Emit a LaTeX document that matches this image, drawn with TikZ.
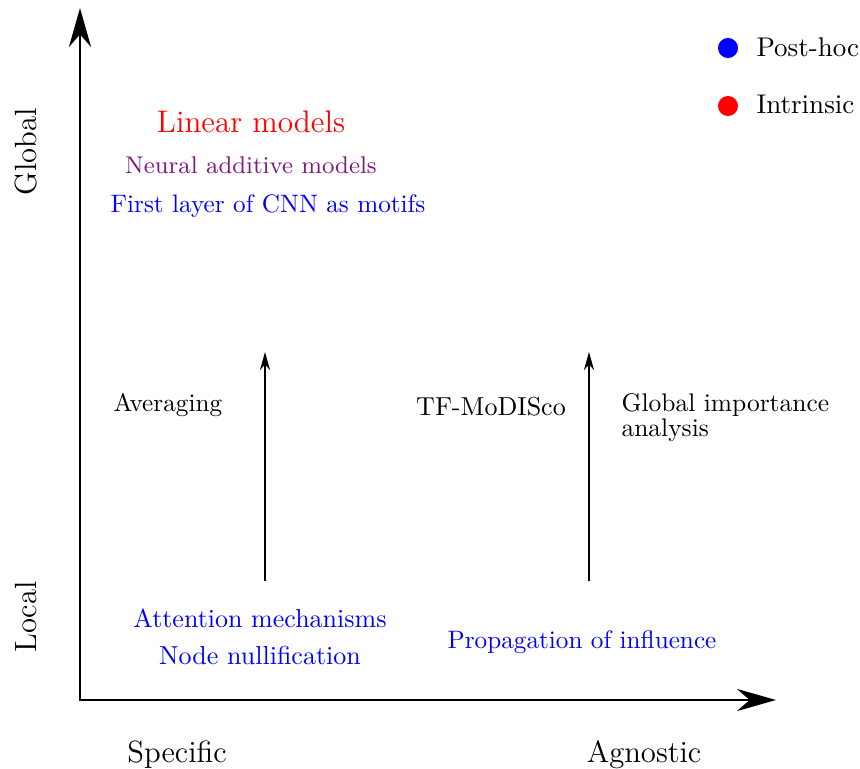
\documentclass[tikz,border=0pt]{standalone}
\usetikzlibrary{arrows.meta}
\definecolor{napurple}{rgb}{0.5,0.1,0.5}
\begin{document}
\begin{tikzpicture}[x=0.3846pt,y=-0.3846pt,
  axis/.style={line width=1.15pt,{Stealth[length=15pt,width=8.5pt]}-{Stealth[length=15pt,width=8.5pt]}},
  lift/.style={line width=0.5pt,-{Stealth[length=7pt,width=3.9pt]}},
  lbl/.style={inner sep=0pt,anchor=base,font=\fontsize{10}{12}\selectfont},
  small/.style={font=\fontsize{9.7}{12}\selectfont},
  axlbl/.style={inner sep=0pt,anchor=base,font=\fontsize{11.8}{14}\selectfont},
  dot/.style={circle,inner sep=0pt,minimum size=7.7pt}]
\useasboundingbox (0,0) rectangle (860,769);

% axes
\coordinate (O) at (80,700);
\coordinate (ytip) at (80,8);
\coordinate (xtip) at (776,700);
\draw[axis] (ytip) -- (O) -- (xtip);

% axis labels
\node[axlbl,rotate=90] (global) at (36,152) {Global};
\node[axlbl,rotate=90] (local) at (36,617) {Local};
\node[axlbl] (spec) at (177,762) {Specific};
\node[axlbl] (agn) at (644,762) {Agnostic};

% global, model-specific
\node[lbl,red,font=\fontsize{12}{14}\selectfont] (lin) at (251,133) {Linear models};
\node[lbl,napurple,font=\fontsize{9.3}{12}\selectfont] (nam) at (251,174) {Neural additive models};
\node[lbl,blue,small] (cnn) at (268,213) {First layer of CNN as motifs};

% aggregation from local to global
\node[lbl,small,anchor=base west] (avg) at (113,412) {Averaging};
\node[lbl] (tfm) at (491,415) {TF-MoDISco};
\node[lbl,anchor=base west,align=left,font=\fontsize{9.8}{9.6}\selectfont] (gia) at (621,436) {Global importance\\analysis};

\coordinate (a1s) at (265,581);
\coordinate (a1e) at (265,352);
\coordinate (a2s) at (589,581);
\coordinate (a2e) at (589,352);
\draw[lift] (a1s) -- (a1e);
\draw[lift] (a2s) -- (a2e);

% local methods
\node[lbl,blue] (att) at (260,627) {Attention mechanisms};
\node[lbl,blue] (nul) at (260,664) {Node nullification};
\node[lbl,blue,small] (prop) at (582,648) {Propagation of influence};

% legend
\node[dot,fill=blue] (ph) at (728,48) {};
\node[dot,fill=red] (in) at (728,106) {};
\node[lbl,anchor=base west,font=\fontsize{10.4}{12}\selectfont] (phl) at (756,57) {Post-hoc};
\node[lbl,anchor=base west,font=\fontsize{10.4}{12}\selectfont] (inl) at (756,114) {Intrinsic};
\end{tikzpicture}
\end{document}
